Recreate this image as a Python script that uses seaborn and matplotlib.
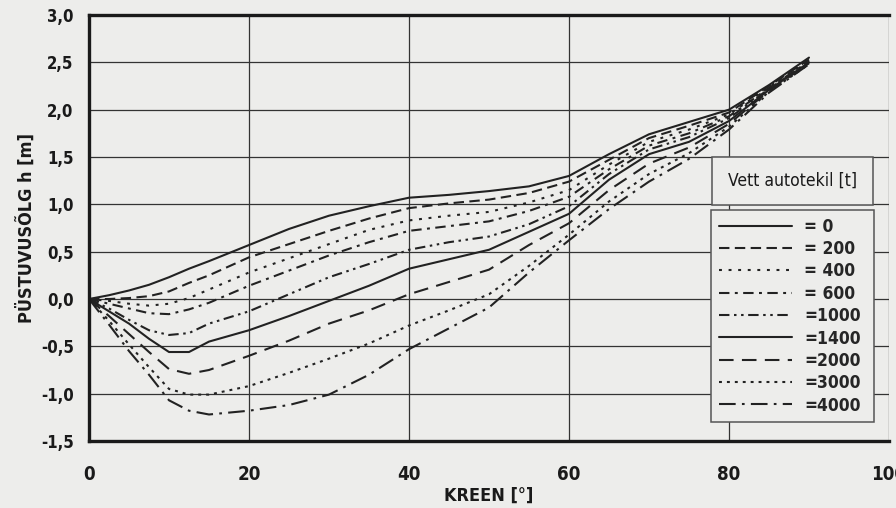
import matplotlib
matplotlib.use("Agg")
import matplotlib.pyplot as plt
from matplotlib.ticker import MultipleLocator, FuncFormatter
from matplotlib.lines import Line2D
from matplotlib.patches import Rectangle
import seaborn as sns
import pandas as pd

# Heel angle (degrees) and righting arm h (m) for each amount of water on the car deck (t)
heel_deg = [0, 2.5, 5, 7.5, 10, 12.5, 15, 20, 25, 30, 35, 40, 45, 50, 55, 60, 65, 70, 75, 80, 85, 90]

h_0 = [0.00, 0.04, 0.09, 0.15, 0.23, 0.32, 0.40, 0.57, 0.74, 0.88, 0.98, 1.07, 1.10, 1.14, 1.19, 1.30, 1.53, 1.74, 1.87, 2.00, 2.26, 2.55]
h_200 = [0.00, 0.00, 0.01, 0.03, 0.08, 0.17, 0.25, 0.44, 0.58, 0.72, 0.85, 0.96, 1.01, 1.05, 1.12, 1.24, 1.47, 1.70, 1.83, 1.97, 2.25, 2.53]
h_400 = [0.00, -0.02, -0.05, -0.07, -0.05, 0.01, 0.10, 0.28, 0.43, 0.58, 0.73, 0.83, 0.88, 0.92, 1.02, 1.15, 1.42, 1.66, 1.79, 1.95, 2.24, 2.52]
h_600 = [0.00, -0.05, -0.10, -0.15, -0.16, -0.11, -0.04, 0.14, 0.30, 0.46, 0.60, 0.72, 0.77, 0.82, 0.93, 1.08, 1.37, 1.62, 1.75, 1.93, 2.23, 2.51]
h_1000 = [0.00, -0.10, -0.22, -0.33, -0.38, -0.36, -0.26, -0.13, 0.05, 0.23, 0.37, 0.52, 0.60, 0.66, 0.79, 0.98, 1.32, 1.58, 1.71, 1.91, 2.22, 2.50]
h_1400 = [0.00, -0.13, -0.26, -0.42, -0.56, -0.56, -0.45, -0.33, -0.18, -0.02, 0.14, 0.32, 0.42, 0.52, 0.71, 0.90, 1.26, 1.53, 1.66, 1.88, 2.21, 2.50]
h_2000 = [0.00, -0.18, -0.37, -0.56, -0.74, -0.79, -0.75, -0.60, -0.44, -0.26, -0.12, 0.05, 0.18, 0.31, 0.57, 0.80, 1.15, 1.43, 1.60, 1.85, 2.20, 2.49]
h_3000 = [0.00, -0.23, -0.48, -0.72, -0.95, -1.01, -1.01, -0.92, -0.78, -0.63, -0.47, -0.28, -0.12, 0.05, 0.35, 0.68, 1.03, 1.32, 1.54, 1.82, 2.19, 2.48]
h_4000 = [0.00, -0.27, -0.55, -0.80, -1.07, -1.18, -1.22, -1.18, -1.12, -1.01, -0.80, -0.53, -0.31, -0.09, 0.28, 0.62, 0.95, 1.24, 1.48, 1.79, 2.18, 2.48]

water_t = [0, 200, 400, 600, 1000, 1400, 2000, 3000, 4000]
series = [h_0, h_200, h_400, h_600, h_1000, h_1400, h_2000, h_3000, h_4000]
legend_labels = ["= 0", "= 200", "= 400", "= 600", "=1000", "=1400", "=2000", "=3000", "=4000"]

line_styles = [
    "-",
    (0, (5, 2.6)),
    (0, (1.4, 3.2)),
    (0, (5, 2.6, 1.4, 2.6)),
    (0, (5, 2.2, 1.2, 2.2, 1.2, 2.2)),
    "-",
    (0, (7, 4)),
    (0, (1.4, 2.4)),
    (0, (8, 3, 1.3, 3)),
]

x_ticks = [0, 20, 40, 60, 80, 100]

df = pd.DataFrame(
    [(d, h, t) for t, hs in zip(water_t, series) for d, h in zip(heel_deg, hs)],
    columns=["heel", "h", "water"],
)

bg = "#ededeb"
ink = "#222222"

sns.set_theme(style="white")
plt.rcParams["font.family"] = ["DejaVu Sans"]
plt.rcParams["font.stretch"] = "condensed"

fig = plt.figure(figsize=(8.96, 5.08), dpi=100, facecolor=bg)
ax = fig.add_axes([89 / 896, 1 - 441 / 508, 800 / 896, 426 / 508])
ax.set_facecolor(bg)

for t, ls in zip(water_t, line_styles):
    sub = df[df["water"] == t]
    sns.lineplot(data=sub, x="heel", y="h", ax=ax, color=ink, linewidth=1.5,
                 linestyle=ls, legend=False, sort=True)

ax.set_xlim(0, 100)
ax.set_ylim(-1.5, 3.0)
ax.set_xticks(x_ticks)
ax.xaxis.set_minor_locator(MultipleLocator(10))
ax.yaxis.set_major_locator(MultipleLocator(0.5))
ax.yaxis.set_minor_locator(MultipleLocator(0.25))
ax.yaxis.set_major_formatter(FuncFormatter(lambda v, p: f"{v:.1f}".replace(".", ",").replace("-0,0", "0,0")))
ax.xaxis.set_major_formatter(FuncFormatter(lambda v, p: f"{v:.0f}"))

ax.grid(True, which="major", color="#333333", linewidth=0.9)
ax.set_axisbelow(True)

for side in ["left", "bottom", "top"]:
    ax.spines[side].set_visible(True)
    ax.spines[side].set_color("#1a1a1a")
    ax.spines[side].set_linewidth(2.4)
ax.spines["right"].set_visible(False)

ax.tick_params(axis="both", which="both", direction="out", color="#333333", width=1.0)
ax.tick_params(axis="both", which="major", length=5)
ax.tick_params(axis="both", which="minor", length=5)
ax.tick_params(axis="y", which="major", labelsize=12, pad=6, labelcolor="#1a1a1a")
ax.tick_params(axis="x", which="major", labelsize=13.5, pad=12, labelcolor="#1a1a1a")
for lab in ax.get_xticklabels() + ax.get_yticklabels():
    lab.set_fontweight("bold")
    lab.set_fontstretch("condensed")

ax.set_xlabel("KREEN [°]", fontsize=13, fontweight="bold", fontstretch="condensed",
              color="#1a1a1a", labelpad=2)
ax.set_ylabel("PÜSTUVUSÕLG h [m]", fontsize=13, fontweight="bold", fontstretch="condensed",
              color="#1a1a1a", labelpad=4)

# Legend: separate title box above the entries box
fig.patches.append(Rectangle((712 / 896, 1 - 205 / 508), 161 / 896, 48 / 508,
                             transform=fig.transFigure, facecolor=bg,
                             edgecolor="#555555", linewidth=1.1, zorder=5))
fig.text((712 + 161 / 2) / 896, 1 - 181 / 508, "Vett autotekil [t]",
         ha="center", va="center", fontsize=12.5, fontstretch="condensed",
         color="#1a1a1a", zorder=6)

handles = [Line2D([0], [0], color=ink, linewidth=1.5, linestyle=ls) for ls in line_styles]
leg = ax.legend(handles, legend_labels, loc="upper left",
                bbox_to_anchor=(711 / 896, 1 - 425 / 508, 163 / 896, 215 / 508),
                bbox_transform=fig.transFigure, mode="expand",
                frameon=True, fancybox=False, framealpha=1, facecolor=bg,
                edgecolor="#555555", handlelength=4.2, handletextpad=0.7,
                labelspacing=0.25, borderpad=0.45, borderaxespad=0,
                prop={"family": "DejaVu Sans", "weight": "bold", "size": 12.5,
                      "stretch": "condensed"})
leg.get_frame().set_linewidth(1.1)

fig.savefig("out.png", dpi=100, facecolor=bg)
